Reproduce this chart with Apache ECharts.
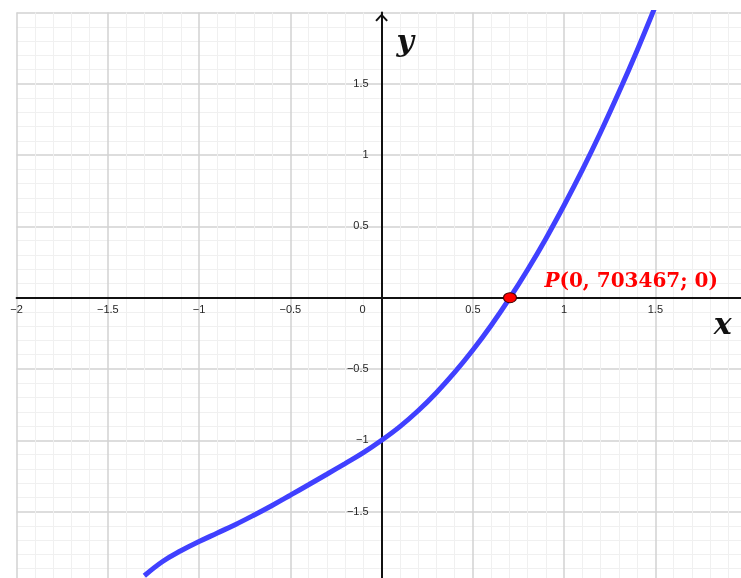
<!DOCTYPE html>
<html>
<head>
<meta charset="utf-8">
<script src="https://cdn.jsdelivr.net/npm/echarts@6/dist/echarts.min.js"></script>
<style>
  html, body { margin: 0; padding: 0; background: #fff; }
  #chart { width: 741px; height: 578px; }
</style>
</head>
<body>
<div id="chart"></div>
<script>
// curve points (x every 0.1)
var curveX = [-1.3, -1.2, -1.1, -1.0, -0.9, -0.8, -0.7, -0.6, -0.5, -0.4, -0.3, -0.2, -0.1, 0, 0.1, 0.2, 0.3, 0.4, 0.5, 0.6, 0.7, 0.8, 0.9, 1.0, 1.1, 1.2, 1.3, 1.4, 1.5];
var curveY = [-1.95, -1.85, -1.775, -1.71, -1.65, -1.59, -1.525, -1.457, -1.385, -1.312, -1.238, -1.163, -1.087, -1.0, -0.904, -0.793, -0.666, -0.524, -0.367, -0.195, -0.007, 0.196, 0.414, 0.648, 0.896, 1.16, 1.44, 1.734, 2.044];

// root point P
var pointP = [0.703467, 0];
var pointText = '(0, 703467; 0)';

// axis ranges
var xRange = [-2, 2];
var yRange = [-2, 2];
var step = 0.5;

var curveData = curveX.map(function (x, i) { return [x, curveY[i]]; });

function fmt(v) {
    return String(v).replace('-', '\u2212');
}

var labelFont = {
    fontFamily: 'Liberation Sans',
    fontSize: 11,
    color: '#262626'
};

// plot box (pixels)
var gLeft = 16.6, gTop = 12.5, gW = 730, gH = 570.4;

var myChart = echarts.init(document.getElementById('chart'));

myChart.setOption({
    animation: false,
    backgroundColor: '#fff',
    grid: {
        left: gLeft,
        top: gTop,
        width: gW,
        height: gH,
        containLabel: false,
        outerBoundsMode: 'none'
    },
    xAxis: [
        {
            // grid lines only
            type: 'value', min: xRange[0], max: xRange[1], interval: step,
            position: 'top',
            axisLine: { show: false },
            axisTick: { show: false },
            axisLabel: { show: false },
            splitLine: { show: true, lineStyle: { color: '#d2d2d2', width: 1.5 } },
            minorTick: { show: false, splitNumber: 5 },
            minorSplitLine: { show: true, lineStyle: { color: '#f0f0f0', width: 1 } }
        },
        {
            // axis line and labels, moved up to y = 0
            type: 'value', min: xRange[0], max: xRange[1], interval: step,
            position: 'bottom',
            offset: -gH / 2,
            z: 1,
            name: 'x',
            nameLocation: 'end',
            nameGap: -24,
            nameTextStyle: {
                fontFamily: 'DejaVu Serif',
                fontStyle: 'italic',
                fontWeight: 'bold',
                fontSize: 30,
                color: '#111',
                align: 'center',
                verticalAlign: 'top',
                lineHeight: 58
            },
            axisLine: {
                onZero: false,
                lineStyle: { color: '#111', width: 2 }
            },
            axisTick: { show: false },
            splitLine: { show: false },
            axisLabel: Object.assign({
                margin: 7,
                formatter: function (v) {
                    if (v === 0) return '{z|0}';
                    if (v === xRange[1]) return '';
                    return fmt(v);
                },
                rich: {
                    z: { padding: [0, 38, 0, 0], fontFamily: 'Liberation Sans', fontSize: 11, color: '#262626' }
                }
            }, labelFont)
        }
    ],
    yAxis: [
        {
            type: 'value', min: yRange[0], max: yRange[1], interval: step,
            position: 'right',
            axisLine: { show: false },
            axisTick: { show: false },
            axisLabel: { show: false },
            splitLine: { show: true, lineStyle: { color: '#d2d2d2', width: 1.5 } },
            minorTick: { show: false, splitNumber: 5 },
            minorSplitLine: { show: true, lineStyle: { color: '#f0f0f0', width: 1 } }
        },
        {
            // axis line and labels, moved right to x = 0
            type: 'value', min: yRange[0], max: yRange[1], interval: step,
            position: 'left',
            offset: -gW / 2,
            z: 1,
            name: 'y',
            nameLocation: 'end',
            nameGap: -31,
            nameTextStyle: {
                fontFamily: 'DejaVu Serif',
                fontStyle: 'italic',
                fontWeight: 'bold',
                fontSize: 30,
                color: '#111',
                align: 'left',
                verticalAlign: 'middle',
                padding: [0, 0, 0, 15]
            },
            axisLine: {
                onZero: false,
                symbol: ['none', 'path://M0,8 L7.5,0 L15,8 L13.2,9.5 L7.5,3.4 L1.8,9.5 Z'],
                symbolSize: [15, 8],
                symbolOffset: [0, -5],
                lineStyle: { color: '#111', width: 2 }
            },
            axisTick: { show: false },
            splitLine: { show: false },
            axisLabel: Object.assign({
                margin: 13,
                formatter: function (v) {
                    if (v === 0 || v === yRange[1]) return '';
                    return fmt(v);
                }
            }, labelFont)
        }
    ],
    series: [
        {
            name: 'f',
            type: 'line',
            xAxisIndex: 0,
            yAxisIndex: 0,
            data: curveData,
            smooth: 0.4,
            showSymbol: false,
            z: 2,
            lineStyle: { color: '#4040ff', width: 5 }
        },
        {
            name: 'P',
            type: 'scatter',
            xAxisIndex: 0,
            yAxisIndex: 0,
            data: [pointP],
            symbol: 'circle',
            symbolSize: [13, 10],
            z: 3,
            itemStyle: { color: '#ff0000', borderColor: '#3a0000', borderWidth: 1, opacity: 1 },
            label: {
                show: true,
                position: [41.5, -10],
                align: 'left',
                verticalAlign: 'middle',
                formatter: function () { return '{p|P}{t|' + pointText + '}'; },
                rich: {
                    p: { fontFamily: 'DejaVu Serif', fontStyle: 'italic', fontWeight: 'bold', fontSize: 20, color: '#ff0000' },
                    t: { fontFamily: 'DejaVu Serif', fontWeight: 'bold', fontSize: 20, color: '#ff0000' }
                }
            }
        }
    ]
});
</script>
</body>
</html>
